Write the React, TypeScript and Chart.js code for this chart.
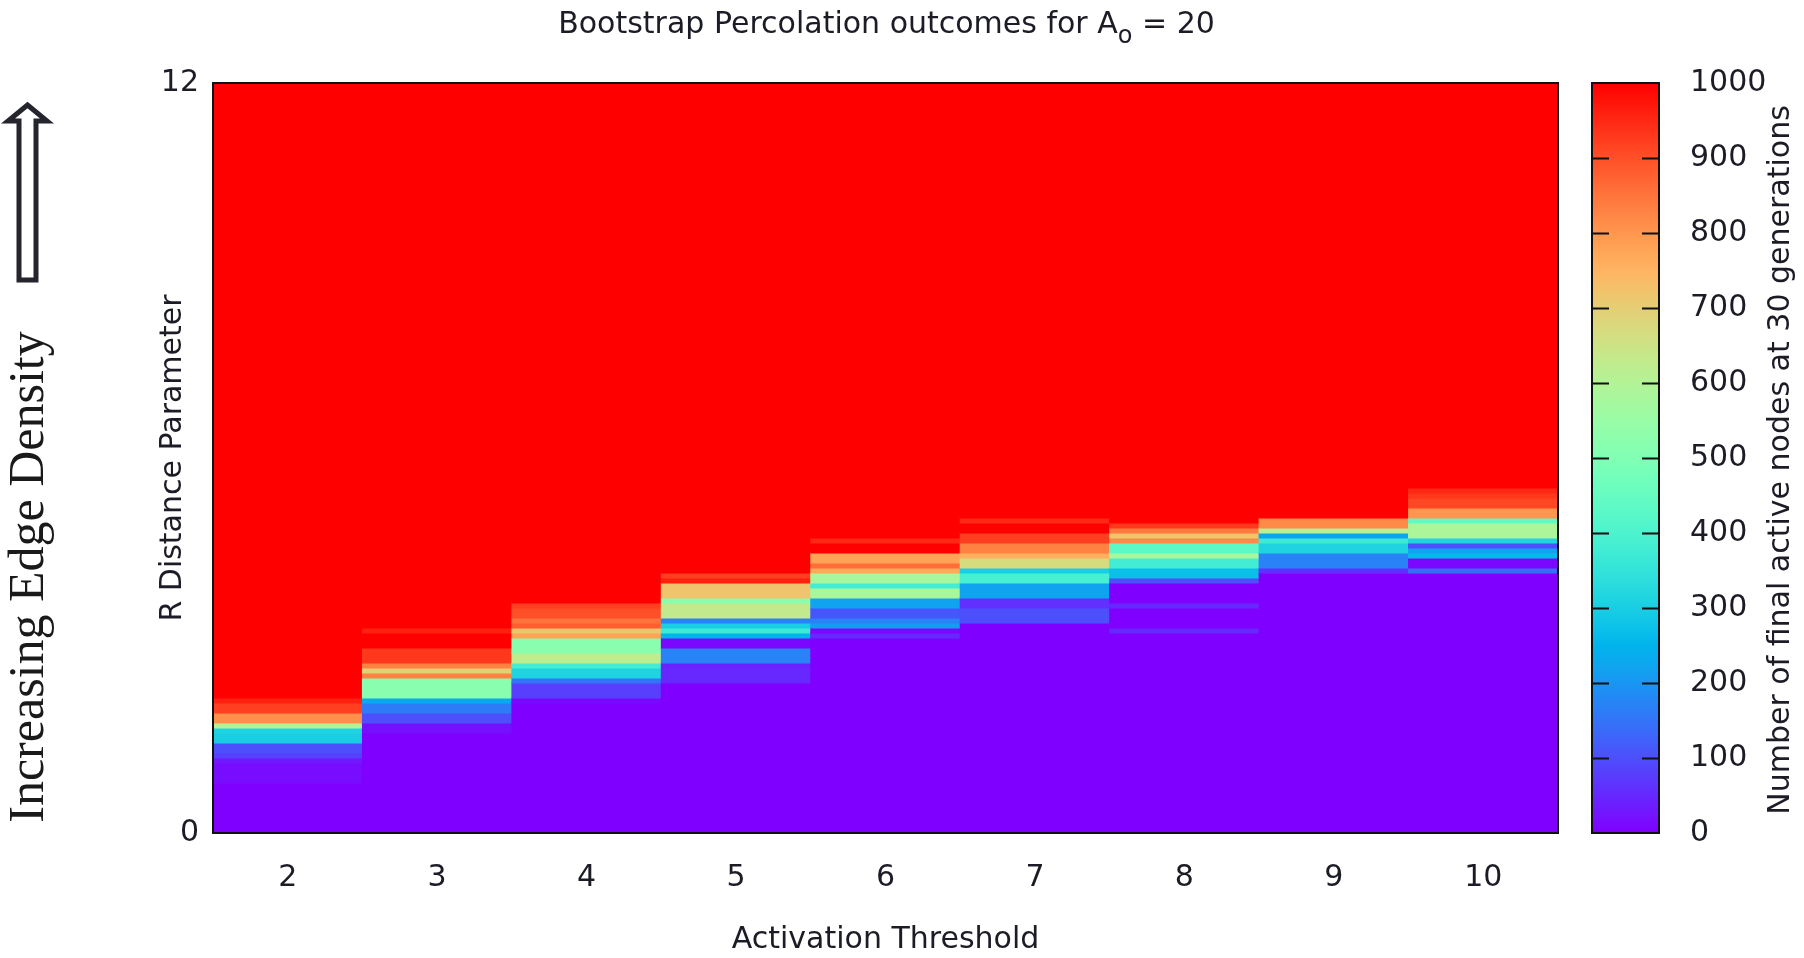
import React, { useEffect, useRef } from 'react';
import { Chart, registerables } from 'chart.js';

Chart.register(...registerables);

// ---------------- data ----------------
const thresholds = ['2', '3', '4', '5', '6', '7', '8', '9', '10'];
const rStep = 0.08; // R resolution of the heat map rows
const rMax = 12;
const valueMin = 0;
const valueMax = 1000;

// first row (R = row * rStep) of the listed transition values for each threshold;
// rows below are 0 active nodes, rows above are 1000 active nodes
const transitionStartRow = [10, 20, 26, 30, 39, 42, 40, 52, 52];

const valuesT2 = [15, 15, 15, 15, 30, 80, 100, 100, 300, 300, 310, 600, 810, 810, 920, 920, 960];
const valuesT3 = [20, 20, 100, 100, 160, 160, 230, 520, 520, 520, 520, 830, 700, 830, 930, 930, 930, 1000, 1000, 1000, 960];
const valuesT4 = [10, 80, 80, 80, 150, 310, 310, 380, 620, 620, 520, 520, 520, 780, 720, 880, 850, 900, 900, 920];
const valuesT5 = [50, 50, 50, 40, 170, 170, 170, 10, 10, 250, 370, 300, 170, 630, 630, 630, 520, 720, 720, 720, 960, 920];
const valuesT6 = [50, 10, 210, 170, 110, 110, 220, 220, 580, 580, 380, 580, 580, 770, 860, 780, 780, 1000, 1000, 950];
const valuesT7 = [100, 100, 100, 60, 60, 220, 220, 220, 390, 390, 300, 670, 670, 760, 830, 830, 920, 920, 1000, 1000, 950];
const valuesT8 = [50, 0, 0, 0, 0, 50, 0, 0, 0, 0, 100, 270, 270, 380, 380, 580, 430, 430, 820, 720, 840, 930];
const valuesT9 = [60, 170, 170, 170, 310, 310, 370, 220, 610, 820, 820];
const valuesT10 = [140, 10, 10, 260, 220, 100, 310, 590, 590, 590, 440, 800, 800, 910, 910, 930, 950];

const transitionValues = [valuesT2, valuesT3, valuesT4, valuesT5, valuesT6, valuesT7, valuesT8, valuesT9, valuesT10];

const yTickStep = 12;
const colorbarStep = 100;

const titleMain = 'Bootstrap Percolation outcomes for A';
const titleSub = 'o';
const titleTail = ' = 20';
const xTitle = 'Activation Threshold';
const yTitle = 'R Distance Parameter';
const cbTitle = 'Number of final active nodes at 30 generations';
const sideNote = 'Increasing Edge Density';

// ---------------- helpers ----------------
const TEXT = '#1c1c26';
const FONT = 'DejaVu Sans';

function rainbow(v: number): string {
  const x = Math.min(1, Math.max(0, (v - valueMin) / (valueMax - valueMin)));
  const r = Math.min(1, Math.abs(2 * x - 0.5));
  const g = Math.max(0, Math.sin(Math.PI * x));
  const b = Math.max(0, Math.cos((Math.PI * x) / 2));
  return `rgb(${Math.round(r * 255)},${Math.round(g * 255)},${Math.round(b * 255)})`;
}

type Cell = { x: string; y: [number, number]; v: number };

function buildCells(): Cell[] {
  const cells: Cell[] = [];
  const totalRows = Math.round(rMax / rStep);
  thresholds.forEach((t, ci) => {
    const start = transitionStartRow[ci];
    const vals = transitionValues[ci];
    const rowVals: number[] = [];
    for (let i = 0; i < totalRows; i++) {
      if (i < start) rowVals.push(valueMin);
      else if (i < start + vals.length) rowVals.push(vals[i - start]);
      else rowVals.push(valueMax);
    }
    let i = 0;
    while (i < totalRows) {
      let j = i;
      while (j + 1 < totalRows && rowVals[j + 1] === rowVals[i]) j++;
      cells.push({ x: t, y: [i * rStep, Math.min(rMax, (j + 1) * rStep)], v: rowVals[i] });
      i = j + 1;
    }
  });
  return cells;
}

function zeroPad(s: any) {
  s.paddingTop = 0;
  s.paddingBottom = 0;
  s.paddingLeft = 0;
  s.paddingRight = 0;
}

const decorPlugin = {
  id: 'decor',
  afterDatasetsDraw(chart: any) {
    const { ctx, chartArea } = chart;
    ctx.save();
    // plot frame
    ctx.strokeStyle = '#111';
    ctx.lineWidth = 2;
    ctx.strokeRect(chartArea.left, chartArea.top, chartArea.right - chartArea.left, chartArea.bottom - chartArea.top);
    ctx.restore();
  },
  afterDraw(chart: any) {
    const { ctx, chartArea } = chart;
    const cb = chart.scales.cb;
    ctx.save();

    // ---- colour bar ----
    const cbLeft = 1592;
    const cbRight = 1659;
    const yTop = cb.getPixelForValue(valueMax);
    const yBot = cb.getPixelForValue(valueMin);
    const grad = ctx.createLinearGradient(0, yBot, 0, yTop);
    for (let k = 0; k <= 40; k++) {
      const f = k / 40;
      grad.addColorStop(f, rainbow(valueMin + f * (valueMax - valueMin)));
    }
    ctx.fillStyle = grad;
    ctx.fillRect(cbLeft, yTop, cbRight - cbLeft, yBot - yTop);
    ctx.strokeStyle = '#111';
    ctx.lineWidth = 2;
    ctx.strokeRect(cbLeft, yTop, cbRight - cbLeft, yBot - yTop);
    ctx.beginPath();
    for (let v = valueMin + colorbarStep; v < valueMax; v += colorbarStep) {
      const py = Math.round(cb.getPixelForValue(v)) + 0.5;
      ctx.moveTo(cbLeft, py);
      ctx.lineTo(cbLeft + 17, py);
      ctx.moveTo(cbRight - 17, py);
      ctx.lineTo(cbRight, py);
    }
    ctx.stroke();

    ctx.fillStyle = TEXT;

    // ---- colour bar title (reads bottom to top) ----
    ctx.save();
    ctx.translate(1781, (yTop + yBot) / 2 + 2);
    ctx.rotate(-Math.PI / 2);
    ctx.font = `30px "${FONT}"`;
    ctx.textAlign = 'center';
    ctx.textBaseline = 'middle';
    ctx.fillText(cbTitle, 0, 0);
    ctx.restore();

    // ---- main title with subscript ----
    ctx.textBaseline = 'alphabetic';
    ctx.textAlign = 'left';
    const big = `30px "${FONT}"`;
    const small = `24px "${FONT}"`;
    ctx.font = big;
    const w1 = ctx.measureText(titleMain).width;
    const w3 = ctx.measureText(titleTail).width;
    ctx.font = small;
    const w2 = ctx.measureText(titleSub).width;
    const total = w1 + w2 + w3;
    const cx = (chartArea.left + chartArea.right) / 2 + 1;
    const x0 = cx - total / 2;
    const base = 33;
    ctx.font = big;
    ctx.fillText(titleMain, x0, base);
    ctx.font = small;
    ctx.fillText(titleSub, x0 + w1, base + 10);
    ctx.font = big;
    ctx.fillText(titleTail, x0 + w1 + w2, base);

    // ---- side annotation: arrow + serif text ----
    ctx.strokeStyle = '#25252d';
    ctx.lineWidth = 5;
    ctx.lineJoin = 'miter';
    ctx.beginPath();
    ctx.moveTo(27.5, 105);
    ctx.lineTo(47, 121);
    ctx.lineTo(36, 121);
    ctx.lineTo(36, 280);
    ctx.lineTo(19, 280);
    ctx.lineTo(19, 121);
    ctx.lineTo(8, 121);
    ctx.closePath();
    ctx.stroke();

    ctx.save();
    ctx.fillStyle = '#1a1a1a';
    ctx.translate(43, 577);
    ctx.rotate(-Math.PI / 2);
    ctx.font = '50px "Liberation Serif"';
    ctx.textAlign = 'center';
    ctx.textBaseline = 'alphabetic';
    ctx.fillText(sideNote, 0, 0);
    ctx.restore();

    ctx.restore();
  },
};

export default function App() {
  const canvasRef = useRef<HTMLCanvasElement | null>(null);

  useEffect(() => {
    document.body.style.margin = '0';
    const canvas = canvasRef.current;
    if (!canvas) return;
    Chart.defaults.font.family = FONT;
    Chart.defaults.color = TEXT;

    const cells = buildCells();
    const axisFont = { family: FONT, size: 30 };

    const chart = new Chart(canvas, {
      type: 'bar',
      data: {
        labels: thresholds,
        datasets: [
          {
            data: cells as any,
            backgroundColor: (c: any) => rainbow(c.raw ? c.raw.v : 0),
            borderWidth: 0,
            barPercentage: 1,
            categoryPercentage: 1,
            inflateAmount: 0.5,
          } as any,
        ],
      },
      options: {
        responsive: false,
        animation: false,
        events: [],
        layout: { padding: { top: 83, left: 0, right: 0, bottom: 0 } },
        plugins: {
          legend: { display: false },
          tooltip: { enabled: false },
          title: { display: false },
        },
        scales: {
          x: {
            type: 'category',
            position: 'bottom',
            offset: true,
            grid: { display: false, drawTicks: false },
            border: { display: false },
            ticks: { font: axisFont, color: TEXT, padding: 27, maxRotation: 0, autoSkip: false },
            title: { display: true, text: xTitle, font: axisFont, color: TEXT, padding: { top: 0, bottom: 0 } },
            afterFit: (s: any) => {
              s.height = 125;
              zeroPad(s);
            },
          },
          y: {
            type: 'linear',
            position: 'left',
            min: 0,
            max: rMax,
            grid: { display: false, drawTicks: false },
            border: { display: false },
            ticks: { stepSize: yTickStep, font: axisFont, color: TEXT, padding: 14, callback: (v: any) => String(v) },
            title: { display: true, text: yTitle, font: axisFont, color: TEXT, padding: { top: 155, bottom: 0 } },
            afterFit: (s: any) => {
              s.width = 213;
              zeroPad(s);
            },
          },
          cb: {
            type: 'linear',
            position: 'right',
            min: valueMin,
            max: valueMax,
            grid: { display: false, drawTicks: false },
            border: { display: false },
            ticks: {
              stepSize: colorbarStep,
              font: axisFont,
              color: TEXT,
              padding: 132,
              autoSkip: false,
              callback: (v: any) => String(v),
            },
            title: { display: false },
            afterFit: (s: any) => {
              s.width = 246;
              zeroPad(s);
            },
          },
        } as any,
      },
      plugins: [decorPlugin],
    });

    return () => {
      chart.destroy();
    };
  }, []);

  return (
    <div style={{ width: 1804, height: 958, background: '#fff' }}>
      <canvas ref={canvasRef} width={1804} height={958} style={{ display: 'block', width: 1804, height: 958 }} />
    </div>
  );
}
